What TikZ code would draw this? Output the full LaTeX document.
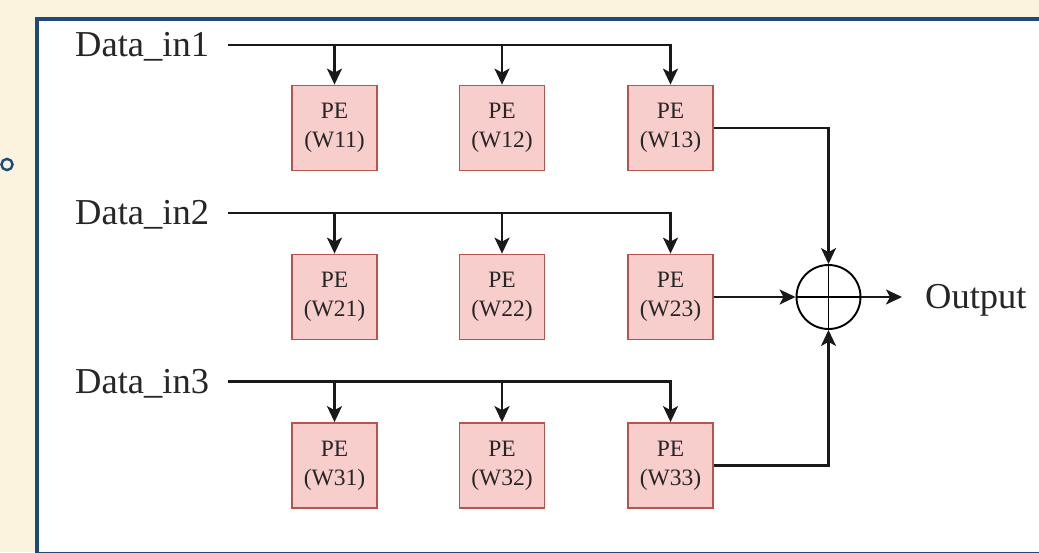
\documentclass[tikz,border=0pt]{standalone}
\usepackage{fontspec}
\setmainfont{Liberation Serif}
\usetikzlibrary{arrows.meta}
\definecolor{paper}{HTML}{FBF3DE}
\definecolor{frame}{HTML}{1C4A7A}
\definecolor{pefill}{HTML}{F8CECC}
\definecolor{peline}{HTML}{B85450}
\definecolor{ink}{HTML}{262626}
\tikzset{
  pebox/.style={draw=peline, fill=pefill, line width=1.8pt, minimum width=85pt,
    minimum height=85pt, inner sep=0pt, align=center, text=ink,
    font=\fontsize{23.5}{29}\selectfont},
  label/.style={inner sep=0pt, text=ink, font=\fontsize{36.5}{40}\selectfont},
  wire/.style={line width=2.1pt, draw=black!90},
  arr/.style={wire, -{Stealth[length=16pt, width=15pt, inset=4pt]}},
}
\begin{document}
\begin{tikzpicture}[x=1pt, y=-1pt]
  % page and frame
  \fill[paper] (0,0) rectangle (1039,552);
  \useasboundingbox (0,0) rectangle (1039,552);
  \fill[white] (37,18.5) rectangle (1045,560);
  \draw[frame, line width=4pt] (1045,18.5) -- (37,18.5) -- (37,553.5) -- (1045,553.5);
  \draw[frame, line width=2.4pt] (7,164.5) circle (5.6);

  % input labels
  \node[label, anchor=base west] (d1) at (75,56) {Data\_in1};
  \node[label, anchor=base west] (d2) at (75,224.5) {Data\_in2};
  \node[label, anchor=base west] (d3) at (75,393) {Data\_in3};
  \coordinate (s1) at (228,45);
  \coordinate (s2) at (228,213);
  \coordinate (s3) at (228,381.5);

  % processing elements
  \foreach \r/\y in {1/128, 2/297, 3/465.5}{
    \foreach \c/\x in {1/334.5, 2/502, 3/670.5}{
      \node[pebox] (p\r\c) at (\x,\y) {PE\\(W\r\c)};
    }
  }

  % input buses
  \foreach \r in {1,2,3}{
    \draw[arr] (s\r) -| (p\r3.north);
    \draw[arr] (s\r -| p\r1.north) -- (p\r1.north);
    \draw[arr] (s\r -| p\r2.north) -- (p\r2.north);
  }

  % adder
  \node[draw, circle, line width=1.9pt, minimum size=64pt, inner sep=0pt] (sum) at (828.5,297) {};
  \draw[line width=1.9pt] (sum.north) -- (sum.south) (sum.west) -- (sum.east);
  \draw[arr] (p13.east) -| (sum.north);
  \draw[arr] (p33.east) -| (sum.south);
  \draw[arr] (p23.east) -- (sum.west);

  % output
  \node[label, anchor=base west] (out) at (925,308) {Output};
  \draw[arr, shorten >=23pt] (sum.east) -- (sum.east -| out.west);
\end{tikzpicture}
\end{document}
